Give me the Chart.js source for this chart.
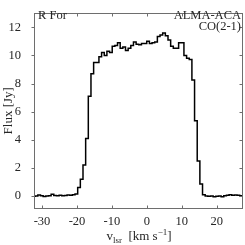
<!DOCTYPE html>
<html>
<head>
<meta charset="utf-8">
<script src="https://cdn.jsdelivr.net/npm/chart.js@4"></script>
<style>
  html, body { margin: 0; padding: 0; background: #fff; }
  canvas { display: block; }
</style>
</head>
<body>
<canvas id="specChart" width="245" height="245"></canvas>
<script>
// channel centres (km/s) and flux (Jy)
const velocity = [
  -32.34, -31.58, -30.82, -30.06, -29.30, -28.54, -27.78, -27.02, -26.26, -25.50,
  -24.74, -23.98, -23.22, -22.46, -21.70, -20.94, -20.18, -19.42, -18.66, -17.90,
  -17.14, -16.38, -15.62, -14.86, -14.10, -13.34, -12.58, -11.82, -11.06, -10.30,
  -9.54, -8.78, -8.02, -7.26, -6.50, -5.74, -4.98, -4.22, -3.46, -2.70,
  -1.94, -1.18, -0.42, 0.34, 1.10, 1.86, 2.62, 3.38, 4.14, 4.90,
  5.66, 6.42, 7.18, 7.94, 8.70, 9.46, 10.22, 10.98, 11.74, 12.50,
  13.26, 14.02, 14.78, 15.54, 16.30, 17.06, 17.82, 18.58, 19.34, 20.10,
  20.86, 21.62, 22.38, 23.14, 23.90, 24.66, 25.42, 26.18, 26.94, 27.70
];
const flux = [
  -0.02, 0.00, 0.08, 0.02, -0.03, 0.00, 0.03, 0.12, 0.04, 0.02,
  0.05, 0.02, 0.04, 0.08, 0.05, 0.10, 0.15, 0.60, 1.20, 2.20,
  4.10, 7.10, 8.70, 9.50, 9.50, 9.90, 10.20, 10.00, 10.30, 10.20,
  10.65, 10.70, 10.90, 10.50, 10.60, 10.35, 10.50, 10.70, 10.95, 10.80,
  10.75, 10.85, 10.85, 11.00, 10.85, 10.90, 10.95, 11.35, 11.45, 11.60,
  11.40, 11.10, 10.65, 10.50, 10.50, 10.90, 10.90, 10.00, 9.80, 9.70,
  8.25, 5.35, 2.50, 0.85, 0.10, 0.00, -0.02, 0.00, -0.05, -0.02,
  0.00, -0.05, 0.02, 0.05, 0.10, 0.05, 0.08, 0.05, 0.02, 0.00
];
const xTicks = [-30, -20, -10, 0, 10, 20];
const yTicks = [0, 2, 4, 6, 8, 10, 12];

const serif = '"Liberation Serif", "DejaVu Serif", serif';
const axisGrey = '#6e6e6e';
const textCol = '#262626';

// box, matlab-ish ticks, axis titles and the labels in the corners
const decor = {
  id: 'decor',
  afterDraw(chart) {
    const { ctx, chartArea: a, scales: { x, y } } = chart;
    const L = Math.round(a.left) + 0.5, R = Math.round(a.right) - 0.5;
    const T = Math.round(a.top) + 0.5, B = Math.round(a.bottom) - 0.5;
    ctx.save();
    ctx.strokeStyle = axisGrey;
    ctx.lineWidth = 1;
    ctx.strokeRect(L, T, R - L, B - T);

    ctx.beginPath();
    xTicks.forEach(v => {
      const px = Math.round(x.getPixelForValue(v)) + 0.5;
      ctx.moveTo(px, B); ctx.lineTo(px, B - 3);
      ctx.moveTo(px, T); ctx.lineTo(px, T + 3);
    });
    yTicks.forEach(v => {
      const py = Math.round(y.getPixelForValue(v)) + 0.5;
      ctx.moveTo(L, py); ctx.lineTo(L - 3, py);
      ctx.moveTo(R, py); ctx.lineTo(R - 3, py);
    });
    ctx.stroke();

    ctx.fillStyle = textCol;
    ctx.textBaseline = 'alphabetic';

    // y title
    ctx.save();
    ctx.translate(12, (a.top + a.bottom) / 2);
    ctx.rotate(-Math.PI / 2);
    ctx.textAlign = 'center';
    ctx.font = '13px ' + serif;
    ctx.fillText('Flux [Jy]', 0, 0);
    ctx.restore();

    // x title: v_lsr [km s^-1]
    const big = '13px ' + serif, small = '9px ' + serif;
    const parts = [
      { t: 'v', f: big, dy: 0 },
      { t: 'lsr', f: small, dy: 2.5 },
      { t: '  [km s', f: big, dy: 0 },
      { t: '\u22121', f: small, dy: -5 },
      { t: ']', f: big, dy: 0 }
    ];
    let w = 0;
    parts.forEach(p => { ctx.font = p.f; p.w = ctx.measureText(p.t).width; w += p.w; });
    let cx = 139 - w / 2;
    ctx.textAlign = 'left';
    parts.forEach(p => { ctx.font = p.f; ctx.fillText(p.t, cx, 240 + p.dy); cx += p.w; });

    // corner labels
    ctx.font = '12.5px ' + serif;
    ctx.textAlign = 'left';
    ctx.fillText('R For', 38, 19);
    ctx.textAlign = 'right';
    ctx.fillText('ALMA-ACA', R - 1.5, 18.5);
    ctx.fillText('CO(2-1)', R - 1.5, 30);
    ctx.restore();
  }
};

new Chart(document.getElementById('specChart').getContext('2d'), {
  type: 'line',
  data: {
    datasets: [{
      data: velocity.map((v, i) => ({ x: v, y: flux[i] })),
      borderColor: '#000',
      borderWidth: 1.5,
      pointRadius: 0,
      stepped: 'middle',
      fill: false
    }]
  },
  options: {
    responsive: false,
    animation: false,
    devicePixelRatio: 1,
    layout: { padding: { top: 0, right: 2, left: 0, bottom: 0 } },
    plugins: { legend: { display: false }, tooltip: { enabled: false } },
    scales: {
      x: {
        type: 'linear',
        min: -32.3,
        max: 27.5,
        afterBuildTicks: s => { s.ticks = xTicks.map(v => ({ value: v })); },
        afterFit: s => { s.height = 36; },
        grid: { display: false },
        border: { display: false },
        ticks: { color: textCol, font: { family: serif, size: 12.5 }, padding: -3, maxRotation: 0 }
      },
      y: {
        min: -0.92,
        max: 13.05,
        afterBuildTicks: s => { s.ticks = yTicks.map(v => ({ value: v })); },
        afterFit: s => { s.width = 34; },
        grid: { display: false },
        border: { display: false },
        ticks: { color: textCol, font: { family: serif, size: 12.5 }, padding: 5 }
      }
    }
  },
  plugins: [decor]
});
</script>
</body>
</html>
